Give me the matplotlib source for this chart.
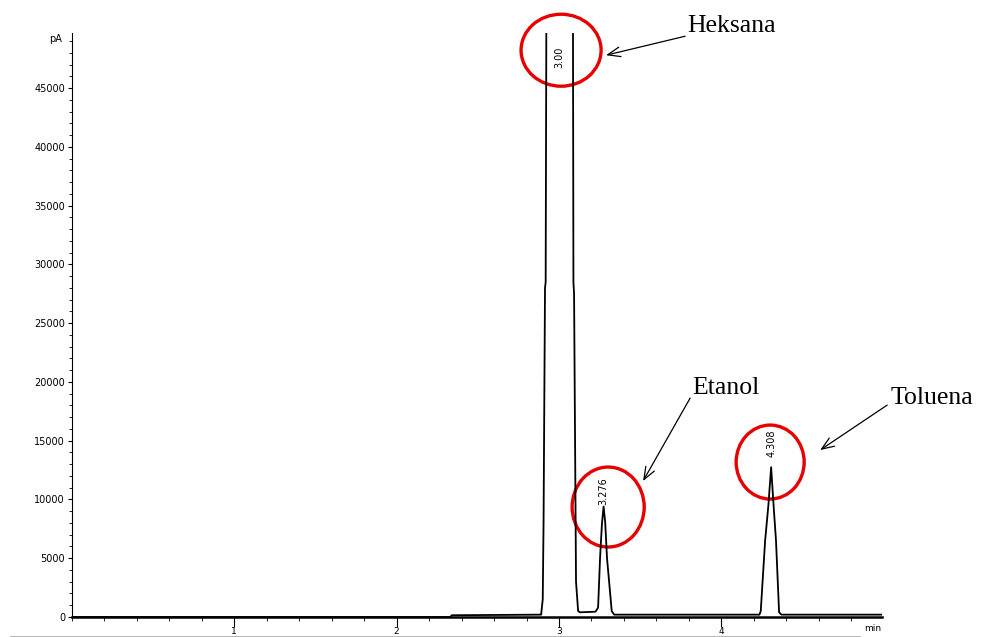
import numpy as np
import matplotlib.pyplot as plt
from matplotlib.patches import Ellipse
from matplotlib.ticker import MultipleLocator

# chromatogram vertices (time in min, signal in pA)
time_min = [0.0, 2.33, 2.34, 2.89, 2.90, 2.905, 2.914, 2.918, 2.924, 3.085,
            3.089, 3.093, 3.105, 3.118, 3.13, 3.225, 3.241, 3.253, 3.265,
            3.275, 3.285, 3.296, 3.325, 3.34, 4.235, 4.243, 4.27, 4.29,
            4.307, 4.322, 4.337, 4.356, 4.37, 5.0]
signal_pa = [0, 0, 150, 200, 1500, 8000, 28000, 28500, 60000, 60000,
             28500, 27500, 3000, 500, 400, 450, 800, 5000, 8000,
             9400, 8000, 5000, 500, 200, 200, 500, 6500, 9500,
             12750, 9500, 6500, 400, 200, 200]

peak_labels = ['3.00', '3.276', '4.308']
peak_label_t = [3.00, 3.276, 4.307]
peak_label_y = [47600, 10700, 14800]

compounds = ['Heksana', 'Etanol', 'Toluena']
circle_t = [3.013, 3.303, 4.301]
circle_y = [48235, 9358, 13186]
circle_w = [0.493, 0.444, 0.419]
circle_h = [6125, 6806, 6295]
text_xy = [(3.789, 50276), (3.820, 19480), (5.04, 18630)]
arrow_tail = [(3.777, 49425), (3.808, 18630), (5.022, 18035)]
arrow_head = [(3.290, 47810), (3.518, 11570), (4.609, 14207)]

fig = plt.figure(figsize=(9.92, 6.37), dpi=100)
ax = fig.add_axes([72 / 992, 1 - 617 / 637, (882 - 72) / 992, (617 - 33) / 637])

ax.plot(time_min, signal_pa, color='black', linewidth=1.3)

ax.set_xlim(0, 4.99)
ax.set_ylim(0, 49700)
ax.spines['top'].set_visible(False)
ax.spines['right'].set_visible(False)
ax.spines['left'].set_linewidth(0.8)
ax.spines['bottom'].set_linewidth(1.8)

ax.set_xticks([1, 2, 3, 4])
ax.xaxis.set_minor_locator(MultipleLocator(0.2))
ax.yaxis.set_major_locator(MultipleLocator(5000))
ax.yaxis.set_minor_locator(MultipleLocator(1000))
ax.tick_params(axis='both', labelsize=7, width=0.8, pad=2)
ax.tick_params(axis='x', which='major', length=7, labelsize=6.5, pad=0.5)
ax.tick_params(axis='x', which='minor', length=3)
ax.tick_params(axis='y', which='major', length=3)
ax.tick_params(axis='y', which='minor', length=2)

ax.text(-0.012, 0.99, 'pA', transform=ax.transAxes, ha='right', va='center', fontsize=7)
ax.text(4.93, -1000, 'min', ha='center', va='center', fontsize=6.5, clip_on=False)

for lab, t, y in zip(peak_labels, peak_label_t, peak_label_y):
    ax.text(t, y, lab, rotation=90, ha='center', va='center', fontsize=7)

for i, name in enumerate(compounds):
    ax.add_patch(Ellipse((circle_t[i], circle_y[i]), circle_w[i], circle_h[i],
                         fill=False, edgecolor='#e60000', linewidth=2.4, clip_on=False))
    ax.annotate('', xy=arrow_head[i], xytext=arrow_tail[i], annotation_clip=False,
                arrowprops=dict(arrowstyle='->,head_length=0.9,head_width=0.35',
                                color='black', lw=0.9, shrinkA=0, shrinkB=0))
    ax.text(text_xy[i][0], text_xy[i][1], name, fontsize=18.5, family='Liberation Serif',
            ha='left', va='center', clip_on=False)

# thin frame line under the axis
fig.add_artist(plt.Line2D([10 / 992, 860 / 992], [1.0 / 637, 1.0 / 637],
                          color='#aaaaaa', linewidth=0.6))

fig.savefig('out.png', dpi=100)
